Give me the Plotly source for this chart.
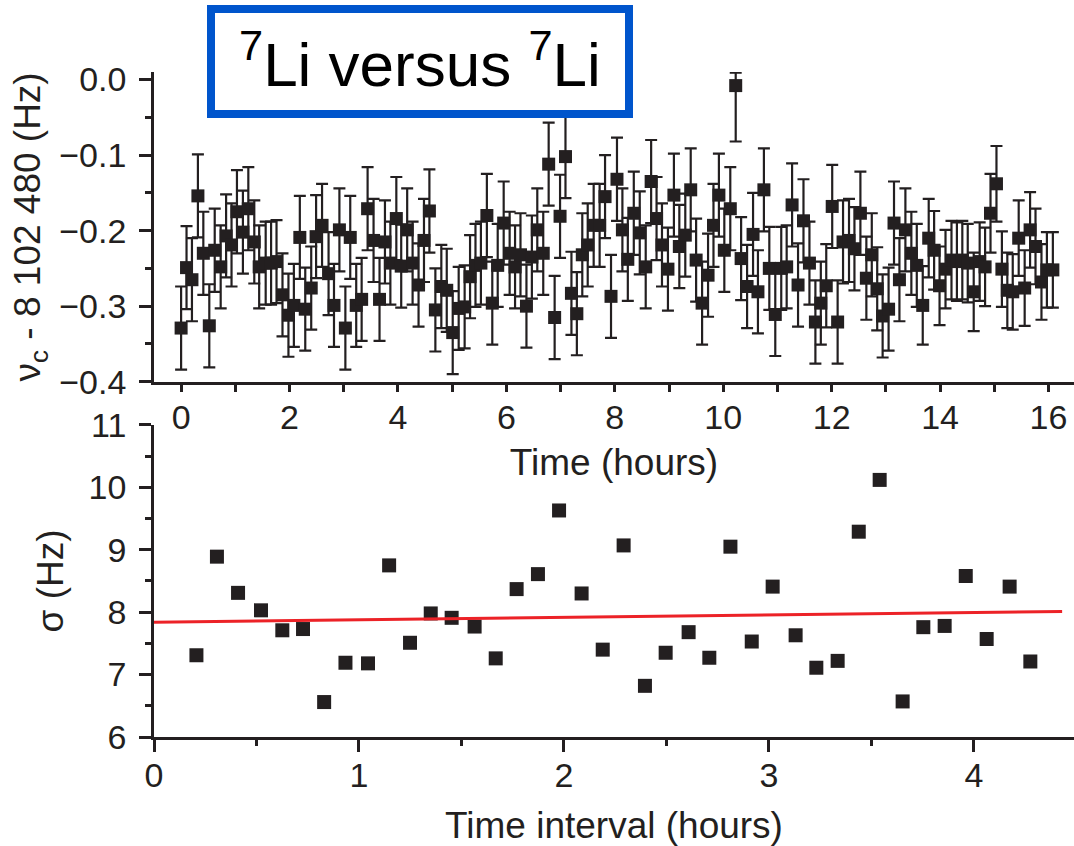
import plotly.graph_objects as go

# ---------------- data: top panel (cyclotron frequency vs time) ----------------
time_h = [
    0.00, 0.10, 0.20, 0.31, 0.41, 0.52, 0.62, 0.73, 0.83, 0.93,
    1.03, 1.14, 1.24, 1.35, 1.44, 1.56, 1.66, 1.76, 1.87, 1.98,
    2.08, 2.19, 2.29, 2.40, 2.49, 2.60, 2.72, 2.82, 2.92, 3.03,
    3.12, 3.23, 3.33, 3.44, 3.55, 3.66, 3.76, 3.86, 3.97, 4.06,
    4.17, 4.27, 4.38, 4.48, 4.58, 4.69, 4.80, 4.90, 5.01,
    5.12, 5.23, 5.33, 5.43, 5.53, 5.64, 5.74, 5.84, 5.95, 6.06,
    6.16, 6.26, 6.37, 6.47, 6.57, 6.68, 6.78, 6.89, 6.99, 7.09,
    7.20, 7.30, 7.40, 7.50, 7.61, 7.72, 7.82, 7.93, 8.04, 8.14,
    8.24, 8.35, 8.46, 8.57, 8.67, 8.77, 8.87, 8.98, 9.09, 9.19,
    9.30, 9.40, 9.50, 9.61, 9.72, 9.82, 9.92, 10.02, 10.13, 10.23,
    10.33, 10.44,
    10.55, 10.64, 10.75, 10.85, 10.96, 11.07, 11.17, 11.27, 11.38, 11.48,
    11.59, 11.70, 11.80, 11.90, 12.01, 12.11, 12.21, 12.32, 12.42, 12.53,
    12.64, 12.74, 12.84, 12.94, 13.05, 13.15, 13.25, 13.36, 13.47, 13.57,
    13.68, 13.79, 13.89, 13.99, 14.10, 14.21, 14.31, 14.41, 14.51, 14.62,
    14.73, 14.83, 14.93, 15.04, 15.14, 15.24, 15.34, 15.45, 15.56, 15.66,
    15.76, 15.87, 15.97, 16.08,
]
nu_c = [
    -0.329, -0.249, -0.265, -0.154, -0.230, -0.326, -0.226, -0.248, -0.207, -0.219,
    -0.175, -0.202, -0.171, -0.215, -0.248, -0.243, -0.243, -0.241, -0.285, -0.312,
    -0.299, -0.209, -0.304, -0.276, -0.208, -0.193, -0.257, -0.299, -0.199, -0.329,
    -0.209, -0.299, -0.291, -0.171, -0.213, -0.291, -0.215, -0.243, -0.184, -0.247,
    -0.199, -0.243, -0.272, -0.213, -0.174, -0.305, -0.274, -0.279, -0.335,
    -0.303, -0.301, -0.261, -0.246, -0.243, -0.180, -0.296, -0.246, -0.190, -0.230,
    -0.248, -0.232, -0.300, -0.235, -0.199, -0.230, -0.112, -0.315, -0.181, -0.102,
    -0.283, -0.310, -0.232, -0.219, -0.193, -0.193, -0.155, -0.287, -0.132, -0.199,
    -0.238, -0.177, -0.203, -0.248, -0.135, -0.184, -0.219, -0.251, -0.153, -0.221,
    -0.206, -0.146, -0.239, -0.296, -0.259, -0.193, -0.153, -0.226, -0.171, -0.008,
    -0.237, -0.274,
    -0.205, -0.281, -0.146, -0.250, -0.311, -0.250, -0.248, -0.166, -0.272, -0.187,
    -0.243, -0.321, -0.296, -0.273, -0.168, -0.321, -0.215, -0.213, -0.224, -0.177,
    -0.263, -0.232, -0.277, -0.313, -0.304, -0.190, -0.265, -0.199, -0.230, -0.246,
    -0.299, -0.210, -0.226, -0.273, -0.251, -0.239, -0.241, -0.239, -0.243, -0.281,
    -0.241, -0.248, -0.177, -0.138, -0.251, -0.279, -0.281, -0.210, -0.276, -0.199,
    -0.221, -0.268, -0.252, -0.252,
]
nu_err_plus = [
    0.055, 0.055, 0.055, 0.055, 0.055, 0.055, 0.055, 0.055, 0.055, 0.055,
    0.055, 0.055, 0.055, 0.055, 0.055, 0.055, 0.055, 0.055, 0.055, 0.055,
    0.055, 0.055, 0.055, 0.055, 0.055, 0.055, 0.055, 0.055, 0.055, 0.055,
    0.055, 0.055, 0.055, 0.055, 0.055, 0.055, 0.055, 0.055, 0.055, 0.055,
    0.055, 0.055, 0.055, 0.055, 0.055, 0.055, 0.055, 0.055, 0.055,
    0.055, 0.055, 0.055, 0.055, 0.055, 0.055, 0.055, 0.055, 0.055, 0.055,
    0.055, 0.055, 0.055, 0.055, 0.055, 0.055, 0.055, 0.055, 0.055, 0.055,
    0.055, 0.055, 0.055, 0.055, 0.055, 0.055, 0.055, 0.055, 0.055, 0.055,
    0.055, 0.055, 0.055, 0.055, 0.055, 0.055, 0.055, 0.055, 0.055, 0.055,
    0.055, 0.055, 0.055, 0.055, 0.055, 0.055, 0.055, 0.055, 0.055, 0.017,
    0.055, 0.055,
    0.055, 0.055, 0.055, 0.055, 0.055, 0.055, 0.055, 0.055, 0.055, 0.055,
    0.055, 0.055, 0.055, 0.055, 0.055, 0.055, 0.055, 0.055, 0.055, 0.055,
    0.055, 0.055, 0.055, 0.055, 0.055, 0.055, 0.055, 0.055, 0.055, 0.055,
    0.052, 0.052, 0.052, 0.052, 0.052, 0.052, 0.052, 0.052, 0.052, 0.052,
    0.052, 0.052, 0.052, 0.050, 0.050, 0.050, 0.050, 0.050, 0.050, 0.050,
    0.050, 0.050, 0.050, 0.050,
]
nu_err_minus = [
    0.055, 0.055, 0.055, 0.055, 0.055, 0.055, 0.055, 0.055, 0.055, 0.055,
    0.055, 0.055, 0.055, 0.055, 0.055, 0.055, 0.055, 0.055, 0.055, 0.055,
    0.055, 0.055, 0.055, 0.055, 0.055, 0.055, 0.055, 0.055, 0.055, 0.055,
    0.055, 0.055, 0.055, 0.055, 0.055, 0.055, 0.055, 0.055, 0.055, 0.055,
    0.055, 0.055, 0.055, 0.055, 0.055, 0.055, 0.055, 0.055, 0.055,
    0.055, 0.055, 0.055, 0.055, 0.055, 0.055, 0.055, 0.055, 0.055, 0.055,
    0.055, 0.055, 0.055, 0.055, 0.055, 0.055, 0.055, 0.055, 0.055, 0.055,
    0.055, 0.055, 0.055, 0.055, 0.055, 0.055, 0.055, 0.055, 0.055, 0.055,
    0.055, 0.055, 0.055, 0.055, 0.055, 0.055, 0.055, 0.055, 0.055, 0.055,
    0.055, 0.055, 0.055, 0.055, 0.055, 0.055, 0.055, 0.055, 0.055, 0.074,
    0.055, 0.055,
    0.055, 0.055, 0.055, 0.055, 0.055, 0.055, 0.055, 0.055, 0.055, 0.055,
    0.055, 0.055, 0.055, 0.055, 0.055, 0.055, 0.055, 0.055, 0.055, 0.055,
    0.055, 0.055, 0.055, 0.055, 0.055, 0.055, 0.055, 0.055, 0.055, 0.055,
    0.052, 0.052, 0.052, 0.052, 0.052, 0.052, 0.052, 0.052, 0.052, 0.052,
    0.052, 0.052, 0.052, 0.050, 0.050, 0.050, 0.050, 0.050, 0.050, 0.050,
    0.050, 0.050, 0.050, 0.050,
]

# ---------------- data: bottom panel (sigma vs time interval) ----------------
interval_h = [
    0.207, 0.307, 0.410, 0.522, 0.626, 0.727, 0.830, 0.934, 1.044, 1.147,
    1.249, 1.350, 1.452, 1.564, 1.667, 1.769, 1.873, 1.976, 2.086, 2.189,
    2.291, 2.395, 2.496, 2.608, 2.709, 2.812, 2.916, 3.018, 3.130, 3.231,
    3.335, 3.438, 3.540, 3.652, 3.753, 3.857, 3.960, 4.062, 4.174, 4.275,
]
sigma_hz = [
    7.31, 8.89, 8.31, 8.03, 7.71, 7.73, 6.56, 7.19, 7.18, 8.75,
    7.51, 7.98, 7.91, 7.77, 7.26, 8.37, 8.61, 9.63, 8.30, 7.40,
    9.07, 6.82, 7.35, 7.68, 7.27, 9.05, 7.53, 8.41, 7.63, 7.11,
    7.22, 9.29, 10.12, 6.57, 7.76, 7.78, 8.58, 7.57, 8.41, 7.21,
]
fit_x = [0.0, 4.43]
fit_y = [7.84, 8.01]

# ---------------- styling ----------------
INK = "#231f20"
FONT = "Liberation Sans, Arial, sans-serif"
TICK_FS = 34
TITLE_FS = 37

fig = go.Figure()

fig.add_trace(go.Scatter(
    x=time_h, y=nu_c, mode="markers",
    marker=dict(symbol="square", size=13, color=INK),
    error_y=dict(type="data", array=nu_err_plus, arrayminus=nu_err_minus,
                 symmetric=False, color=INK, thickness=2.2, width=6),
    xaxis="x", yaxis="y", showlegend=False, cliponaxis=False,
))

fig.add_trace(go.Scatter(
    x=interval_h, y=sigma_hz, mode="markers",
    marker=dict(symbol="square", size=14, color=INK),
    xaxis="x2", yaxis="y2", showlegend=False,
))
fig.add_trace(go.Scatter(
    x=fit_x, y=fit_y, mode="lines",
    line=dict(color="#ec2227", width=3),
    xaxis="x2", yaxis="y2", showlegend=False,
))

axis_common = dict(
    showline=True, linecolor=INK, linewidth=2.6, ticks="outside",
    tickcolor=INK, tickwidth=2.6, showgrid=False, zeroline=False,
    tickfont=dict(family=FONT, size=TICK_FS, color=INK),
    mirror=False,
)

W, H = 1074, 846
ML, MR, MT, MB = 154, 0, 72, 109

fig.update_layout(
    width=W, height=H,
    margin=dict(l=ML, r=MR, t=MT, b=MB, autoexpand=False),
    paper_bgcolor="white", plot_bgcolor="white",
    font=dict(family=FONT, color=INK),
    xaxis=dict(
        **axis_common, range=[-0.5, 16.47], dtick=2, tick0=0, ticklen=8,
        minor=dict(dtick=1, ticklen=8, tickwidth=2.6, tickcolor=INK, ticks="outside"),
        anchor="y", domain=[0, 1], ticklabelstandoff=-4,
        title=dict(text="Time (hours)", font=dict(family=FONT, size=TITLE_FS, color=INK), standoff=14),
    ),
    yaxis=dict(
        **axis_common, range=[-0.4, 0.01], dtick=0.1, tick0=0, ticklen=12,
        tickformat=".1f",
        minor=dict(dtick=0.05, ticklen=6, tickwidth=2.6, tickcolor=INK, ticks="outside"),
        anchor="x", domain=[0.5343, 1.0], ticklabelstandoff=6,
        title=dict(text="ν<sub>c</sub> - 8 102 480 (Hz)", font=dict(family=FONT, size=TITLE_FS, color=INK), standoff=8),
    ),
    xaxis2=dict(
        **axis_common, range=[0, 4.488], dtick=1, tick0=0, ticklen=12,
        minor=dict(dtick=0.5, ticklen=6, tickwidth=2.6, tickcolor=INK, ticks="outside"),
        anchor="y2", domain=[0, 1], ticklabelstandoff=-6,
        title=dict(text="Time interval (hours)", font=dict(family=FONT, size=TITLE_FS, color=INK), standoff=23),
    ),
    yaxis2=dict(
        **axis_common, range=[6, 11], dtick=1, tick0=6, ticklen=12,
        minor=dict(dtick=0.5, ticklen=6, tickwidth=2.6, tickcolor=INK, ticks="outside"),
        anchor="x2", domain=[0.0, 0.4692], ticklabelstandoff=6,
        title=dict(text="σ (Hz)", font=dict(family=FONT, size=TITLE_FS, color=INK), standoff=14),
    ),
)

def px_x(p):
    return (p - ML) / (W - ML - MR)

def px_y(p):
    return 1 - (p - MT) / (H - MT - MB)

# framed label box (white fill, blue border) drawn above the data
fig.add_shape(
    type="rect", xref="paper", yref="paper",
    x0=px_x(211), x1=px_x(629), y0=px_y(114), y1=px_y(9),
    line=dict(color="#0055cc", width=8), fillcolor="white", layer="above",
)
fig.add_annotation(
    xref="paper", yref="paper", x=px_x(420), y=px_y(60),
    text="<sup>7</sup>Li versus <sup>7</sup>Li", showarrow=False,
    font=dict(family=FONT, size=62, color="black"),
    xanchor="center", yanchor="middle",
)

fig.write_html("out.html")
